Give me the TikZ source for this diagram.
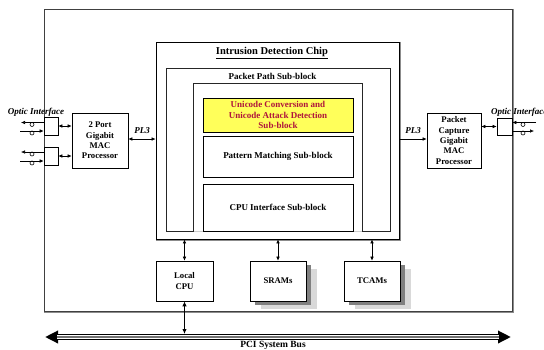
\documentclass[tikz,border=0pt]{standalone}
\usepackage{fontspec}
\setmainfont{Liberation Serif}
\usetikzlibrary{arrows.meta}
\definecolor{uniyellow}{RGB}{255,255,90}
\definecolor{unired}{RGB}{175,20,60}
\begin{document}
\begin{tikzpicture}[x=1pt,y=-1pt,
  box/.style={draw, line width=0.7pt, inner sep=0pt, align=center, font=\bfseries\fontsize{8.7}{10.4}\selectfont},
  subbox/.style={box, font=\bfseries\fontsize{9}{10.5}\selectfont},
  arr/.style={-{Latex[length=4pt,width=3.6pt]}, line width=0.6pt},
  darr/.style={{Latex[length=4pt,width=3.6pt]}-{Latex[length=4pt,width=3.6pt]}, line width=0.6pt},
  lbl/.style={font=\bfseries\itshape\fontsize{9}{10}\selectfont, inner sep=0pt},
  circ/.style={draw, circle, minimum size=4pt, inner sep=0pt, line width=0.6pt},
  shadowA/.style={fill=black!50, draw=none},
  shadowB/.style={fill=black!15, draw=none},
]
\useasboundingbox (0,0) rectangle (544,349);

% board
\node[box, line width=0.9pt, draw=black!75, minimum width=468pt, minimum height=302pt] (board) at (278,160) {};
\draw[black!45, line width=0.8pt] ([shift={(1.2,0)}]board.north east) -- ([shift={(1.2,1.2)}]board.south east) -- ([shift={(0,1.2)}]board.south west);

% chip
\node[box, line width=0.8pt, minimum width=243pt, minimum height=197pt] (chip) at (277.5,140.5) {};
\draw[black!45, line width=0.8pt] ([shift={(1.1,0)}]chip.north east) -- ([shift={(1.1,1.1)}]chip.south east) -- ([shift={(0,1.1)}]chip.south west);
\node[inner sep=0pt, font=\bfseries\fontsize{10.5}{12}\selectfont] (title) at (272,53) {\underline{Intrusion Detection Chip}};

% packet path sub-block
\node[box, line width=0.8pt, draw=black!85, minimum width=224pt, minimum height=163pt] (pp) at (278,149.5) {};
\node[inner sep=0pt, font=\bfseries\fontsize{9}{10}\selectfont] (pptitle) at (272.5,76) {Packet Path Sub-block};
\node[draw=none, minimum width=168pt, minimum height=147pt, inner sep=0pt] (ppin) at (278,157.5) {};
\draw[line width=0.8pt, black!85] (ppin.south west) -- (ppin.north west) -- (ppin.north east) -- (ppin.south east);
\draw[line width=0.8pt, black!20] (ppin.south west) -- (ppin.south east);

% inner sub-blocks
\node[subbox, fill=uniyellow, text=unired, minimum width=150pt, minimum height=34pt] (uni) at (278,115)
  {Unicode Conversion and\\Unicode Attack Detection\\Sub-block};
\node[subbox, minimum width=150pt, minimum height=41pt] (pat) at (278,156.5) {Pattern Matching Sub-block};
\node[subbox, minimum width=150pt, minimum height=47pt] (cpuif) at (278,207.5) {CPU Interface Sub-block};

% MAC processors
\node[box, minimum width=56pt, minimum height=55pt] (mac) at (100,140.5) {2 Port\\Gigabit\\MAC\\Processor};
\node[box, minimum width=54pt, minimum height=55pt] (pcap) at (454,140.5) {Packet\\Capture\\Gigabit\\MAC\\Processor};

% optic interface boxes
\node[box, minimum width=14pt, minimum height=18pt] (oL1) at (51,126) {};
\node[box, minimum width=14pt, minimum height=18pt] (oL2) at (51,156) {};
\node[box, minimum width=15pt, minimum height=17pt] (oR) at (504.5,126.5) {};
\node[lbl] (optL) at (36,112) {Optic Interface};
\node[lbl, anchor=west] (optR) at (491,112) {Optic Interface};

% optic lines left
\coordinate (l1o) at (21,122.5);
\coordinate (l1i) at (20,131);
\coordinate (l2o) at (21,152);
\coordinate (l2i) at (20,161);
\draw[arr] (l1o -| oL1.west) -- (l1o);
\draw[arr] (l1i) -- (l1i -| oL1.west);
\draw[arr] (l2o -| oL2.west) -- (l2o);
\draw[arr] (l2i) -- (l2i -| oL2.west);
\node[circ] (c1) at (32,124.5) {};
\node[circ] (c2) at (32,133) {};
\node[circ] (c3) at (32,154) {};
\node[circ] (c4) at (32,163) {};

% optic lines right
\coordinate (r1o) at (536,122.5);
\coordinate (r1i) at (534,131);
\draw[arr] (r1o) -- (r1o -| oR.east);
\draw[arr] (r1i -| oR.east) -- (r1i);
\node[circ] (c5) at (523,124.5) {};
\node[circ] (c6) at (523,133) {};

% optic to MAC
\draw[darr] (oL1.east) -- (oL1.east -| mac.west);
\draw[darr] (oL2.east) -- (oL2.east -| mac.west);
\draw[darr] (oR.west) -- (oR.west -| pcap.east);

% PL3
\coordinate (pl) at (0,139);
\draw[darr] (mac.east |- pl) -- (chip.west |- pl);
\node[lbl] (pl3a) at (142,131) {PL3};
\draw[arr] (chip.east |- pl) -- (pcap.west |- pl);
\node[lbl] (pl3b) at (413,131) {PL3};

% memories with shadows
\node[box, minimum width=57pt, minimum height=40pt] (lcpu) at (184.5,281) {Local\\CPU};
\fill[shadowB] (260.5,269) rectangle (316.5,309);
\fill[shadowA] (255,265) rectangle (311,305);
\node[box, fill=white, minimum width=56pt, minimum height=40pt] (sram) at (278,281) {SRAMs};
\fill[shadowB] (354.5,269) rectangle (410.5,309);
\fill[shadowA] (349,265) rectangle (405,305);
\node[box, fill=white, minimum width=56pt, minimum height=40pt] (tcam) at (372,281) {TCAMs};

\draw[darr] (lcpu.north) -- (lcpu.north |- chip.south);
\draw[darr] (sram.north) -- (sram.north |- chip.south);
\draw[darr] (tcam.north) -- (tcam.north |- chip.south);

% PCI bus
\coordinate (busL) at (45,337);
\coordinate (busR) at (511,337);
\coordinate (bustop) at (0,334);
\draw[line width=5.5pt, {Triangle[length=13pt,width=12pt]}-{Triangle[length=13pt,width=12pt]}] (busL) -- (busR);
\draw[line width=3.6pt, white, shorten <=12pt, shorten >=12pt] (busL) -- (busR);
\draw[line width=1.3pt, black!55, shorten <=12pt, shorten >=12pt] (busL) -- (busR);
\draw[{Latex[length=5pt,width=4.5pt]}-{Latex[length=5pt,width=4.5pt]}, line width=1.1pt] (lcpu.south) -- (lcpu.south |- bustop);
\node[inner sep=0pt, font=\bfseries\fontsize{9.5}{10}\selectfont] (pci) at (273,345) {PCI System Bus};
\end{tikzpicture}
\end{document}
